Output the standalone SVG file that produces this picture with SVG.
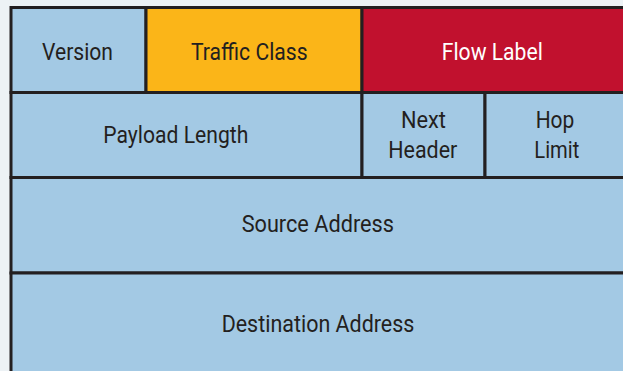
<svg xmlns="http://www.w3.org/2000/svg" width="623" height="371" viewBox="0 0 623 371">
<style>
.cell{stroke:#231f20;stroke-width:3}
.blue{fill:#a3c9e4}
.orange{fill:#fbb518}
.red{fill:#c1112e}
text{font-family:Roboto,"Liberation Sans",sans-serif;font-size:23px;text-anchor:middle;fill:#231f20}
.w{fill:#ffffff}
</style>
<rect x="0" y="0" width="623" height="371" fill="#edf2f5"/>
<g id="version"><rect class="cell blue" x="11" y="7.5" width="135" height="85"/><text x="77.5" y="60" textLength="71" lengthAdjust="spacingAndGlyphs">Version</text></g>
<g id="traffic-class"><rect class="cell orange" x="146" y="7.5" width="216" height="85"/><text x="249.3" y="59.5" textLength="116.5" lengthAdjust="spacingAndGlyphs">Traffic Class</text></g>
<g id="flow-label"><rect class="cell red" x="362" y="7.5" width="264" height="85"/><text class="w" x="492.3" y="59.5" textLength="101" lengthAdjust="spacingAndGlyphs">Flow Label</text></g>
<g id="payload-length"><rect class="cell blue" x="11" y="92.5" width="351" height="85"/><text x="175.8" y="142.7" textLength="145" lengthAdjust="spacingAndGlyphs">Payload Length</text></g>
<g id="next-header"><rect class="cell blue" x="362" y="92.5" width="123" height="85"/><text x="423.5" y="128.3" textLength="45" lengthAdjust="spacingAndGlyphs">Next</text><text x="422.8" y="157.7" textLength="69" lengthAdjust="spacingAndGlyphs">Header</text></g>
<g id="hop-limit"><rect class="cell blue" x="485" y="92.5" width="141" height="85"/><text x="555" y="128.3" textLength="38.7" lengthAdjust="spacingAndGlyphs">Hop</text><text x="556.8" y="157.7" textLength="45" lengthAdjust="spacingAndGlyphs">Limit</text></g>
<g id="source-address"><rect class="cell blue" x="11" y="177.5" width="615" height="95.5"/><text x="317.8" y="231.7" textLength="152.3" lengthAdjust="spacingAndGlyphs">Source Address</text></g>
<g id="destination-address"><rect class="cell blue" x="11" y="273" width="615" height="102"/><text x="318" y="331.7" textLength="192.7" lengthAdjust="spacingAndGlyphs">Destination Address</text></g>
<g id="connectors"/>
</svg>
